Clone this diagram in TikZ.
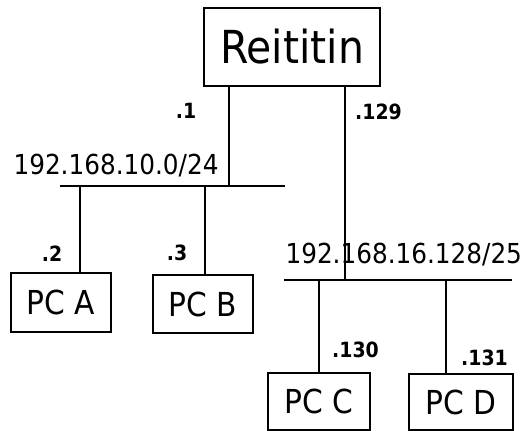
\documentclass[tikz,border=0pt]{standalone}
\usepackage{fontspec}
\setmainfont{DejaVu Sans Condensed}
\begin{document}
\begin{tikzpicture}[x=1pt,y=-1pt,
  line width=1.1pt,
  box/.style={draw,rectangle,inner sep=0pt,anchor=center},
  pclabel/.style={font=\fontsize{33}{33}\selectfont},
  netlabel/.style={inner sep=0pt,font=\fontsize{27.5}{27.5}\selectfont},
  addr/.style={inner sep=0pt,font=\bfseries\fontsize{21}{21}\selectfont}]
\useasboundingbox (0,0) rectangle (525,431);

% router and hosts
\node[box,minimum width=176pt,minimum height=78pt,font=\fontsize{45.5}{45.5}\selectfont] (router) at (292,47) {Reititin};
\node[box,pclabel,minimum width=100pt,minimum height=59pt] (pcA) at (61,302.5) {PC A};
\node[box,pclabel,minimum width=100pt,minimum height=58pt] (pcB) at (203,304) {PC B};
\node[box,pclabel,minimum width=102pt,minimum height=57pt] (pcC) at (319,401.5) {PC C};
\node[box,pclabel,minimum width=104pt,minimum height=56pt] (pcD) at (461,402) {PC D};

% network segments
\coordinate (busAw) at (60,186);
\coordinate (busAe) at (285,186);
\coordinate (busBw) at (284,280);
\coordinate (busBe) at (512,280);
\draw (busAw) -- (busAe);
\draw (busBw) -- (busBe);

% taps on the segments
\coordinate (tapR1) at (229,186);
\coordinate (tapR2) at (345,280);
\coordinate (tapA) at (80,186);
\coordinate (tapB) at (205,186);
\coordinate (tapC) at (319,280);
\coordinate (tapD) at (446,280);

\draw (router.south -| tapR1) -- (tapR1);
\draw (router.south -| tapR2) -- (tapR2);
\draw (tapA) -- (pcA.north -| tapA);
\draw (tapB) -- (pcB.north -| tapB);
\draw (tapC) -- (pcC.north -| tapC);
\draw (tapD) -- (pcD.north -| tapD);

% network addresses
\node[netlabel,anchor=west] (netA) at (13,166) {192.168.10.0/24};
\node[netlabel,anchor=west] (netB) at (285,255) {192.168.16.128/25};

% interface addresses
\node[addr] (a1) at (186,111) {.1};
\node[addr] (a129) at (378.5,112) {.129};
\node[addr] (a2) at (52,254) {.2};
\node[addr] (a3) at (177,253) {.3};
\node[addr] (a130) at (355.5,349.5) {.130};
\node[addr] (a131) at (484.5,357.5) {.131};
\end{tikzpicture}
\end{document}
